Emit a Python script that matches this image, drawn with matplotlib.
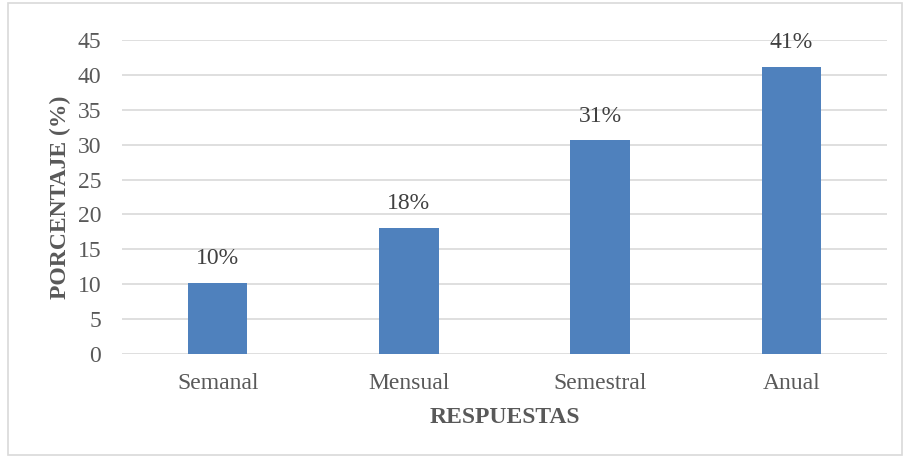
import matplotlib.pyplot as plt
from matplotlib.patches import Rectangle

# respuestas y porcentajes
respuestas = ['Semanal', 'Mensual', 'Semestral', 'Anual']
porcentajes = [10.2, 18.1, 30.6, 41.1]
yticks = [0, 5, 10, 15, 20, 25, 30, 35, 40, 45]

plt.rcParams['font.family'] = ['Liberation Serif', 'DejaVu Serif']
gris = '#595959'

fig = plt.figure(figsize=(9.05, 4.57), dpi=100)
ax = fig.add_axes([122 / 905, 1 - 354 / 457, (887 - 122) / 905, 314 / 457])

x = range(len(respuestas))
ax.bar(x, porcentajes, width=0.31, color='#4f81bd', zorder=3)
for xi, v in zip(x, porcentajes):
    ax.text(xi, v + 2.0, '%d%%' % round(v), ha='center', va='bottom',
            fontsize=17, color='#404040')

ax.set_xlim(-0.5, len(respuestas) - 0.5)
ax.set_ylim(0, 45)
ax.set_yticks(yticks)
ax.set_xticks(list(x))
ax.set_xticklabels(respuestas)
ax.tick_params(axis='both', length=0, labelsize=17, labelcolor=gris)
ax.tick_params(axis='x', pad=14)
ax.tick_params(axis='y', pad=15)
ax.grid(axis='y', color='#d9d9d9', linewidth=1.2, zorder=0)
for s in ax.spines.values():
    s.set_visible(False)

ax.set_xlabel('RESPUESTAS', fontsize=17, fontweight='bold', color=gris, labelpad=9)
ax.set_ylabel('PORCENTAJE (%)', fontsize=17, fontweight='bold', color=gris, labelpad=5)

# marco exterior
fig.patches.append(Rectangle((8 / 905, 0.004), 894 / 905, 0.99, transform=fig.transFigure,
                             fill=False, edgecolor='#d9d9d9', linewidth=1.2))

fig.savefig('out.png', dpi=100)
